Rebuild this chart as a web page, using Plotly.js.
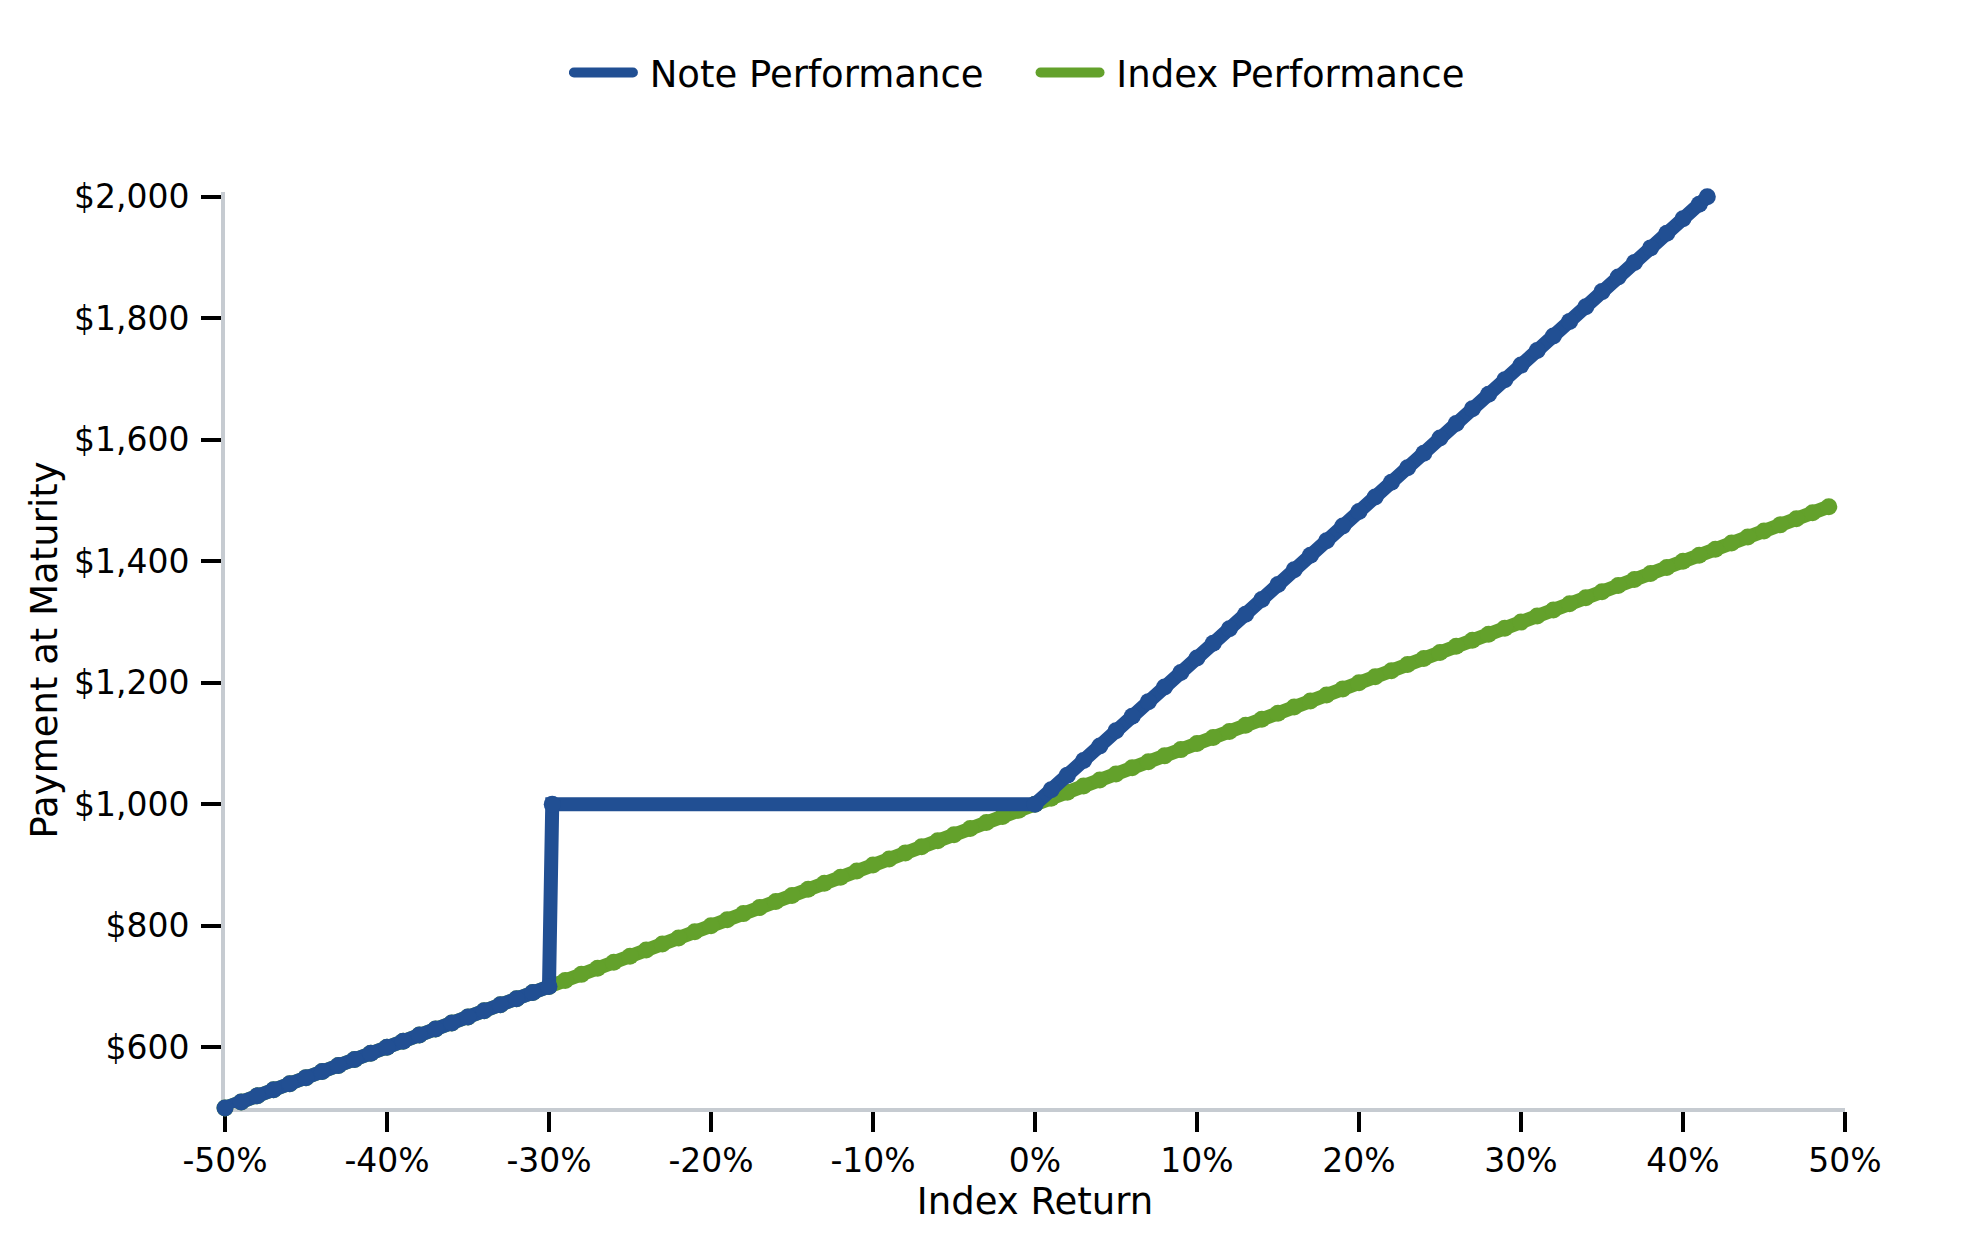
<!DOCTYPE html>
<html>
<head>
<meta charset="utf-8">
<script src="https://cdn.plot.ly/plotly-3.0.1.min.js"></script>
<style>
  html, body { margin: 0; padding: 0; background: #fff; }
  #chart { width: 1979px; height: 1250px; }
  .legendlines path, .js-line { stroke-linecap: round; }
</style>
</head>
<body>
<div id="chart"></div>
<script>
// index return in %, and what the index is worth per $1,000
const indexReturn = [
  -50, -49, -48, -47, -46, -45, -44, -43, -42, -41,
  -40, -39, -38, -37, -36, -35, -34, -33, -32, -31,
  -30, -29, -28, -27, -26, -25, -24, -23, -22, -21,
  -20, -19, -18, -17, -16, -15, -14, -13, -12, -11,
  -10, -9, -8, -7, -6, -5, -4, -3, -2, -1,
  0, 1, 2, 3, 4, 5, 6, 7, 8, 9,
  10, 11, 12, 13, 14, 15, 16, 17, 18, 19,
  20, 21, 22, 23, 24, 25, 26, 27, 28, 29,
  30, 31, 32, 33, 34, 35, 36, 37, 38, 39,
  40, 41, 42, 43, 44, 45, 46, 47, 48, 49
];
const indexValue = [
  500, 510, 520, 530, 540, 550, 560, 570, 580, 590,
  600, 610, 620, 630, 640, 650, 660, 670, 680, 690,
  700, 710, 720, 730, 740, 750, 760, 770, 780, 790,
  800, 810, 820, 830, 840, 850, 860, 870, 880, 890,
  900, 910, 920, 930, 940, 950, 960, 970, 980, 990,
  1000, 1010, 1020, 1030, 1040, 1050, 1060, 1070, 1080, 1090,
  1100, 1110, 1120, 1130, 1140, 1150, 1160, 1170, 1180, 1190,
  1200, 1210, 1220, 1230, 1240, 1250, 1260, 1270, 1280, 1290,
  1300, 1310, 1320, 1330, 1340, 1350, 1360, 1370, 1380, 1390,
  1400, 1410, 1420, 1430, 1440, 1450, 1460, 1470, 1480, 1490
];

// note payoff (flat part has no points in between)
const noteReturn = [
  -50, -49, -48, -47, -46, -45, -44, -43, -42, -41,
  -40, -39, -38, -37, -36, -35, -34, -33, -32, -31,
  -30, -29.8,
  0, 1, 2, 3, 4, 5, 6, 7, 8, 9,
  10, 11, 12, 13, 14, 15, 16, 17, 18, 19,
  20, 21, 22, 23, 24, 25, 26, 27, 28, 29,
  30, 31, 32, 33, 34, 35, 36, 37, 38, 39,
  40, 41, 41.5
];
const noteValue = [
  500, 510, 520, 530, 540, 550, 560, 570, 580, 590,
  600, 610, 620, 630, 640, 650, 660, 670, 680, 690,
  700, 1000,
  1000, 1024, 1048, 1072, 1096, 1121, 1145, 1169, 1193, 1217,
  1241, 1265, 1289, 1313, 1337, 1362, 1386, 1410, 1434, 1458,
  1482, 1506, 1530, 1554, 1578, 1603, 1627, 1651, 1675, 1699,
  1723, 1747, 1771, 1795, 1819, 1844, 1868, 1892, 1916, 1940,
  1964, 1988, 2000
];

const xTickVals = [-50, -40, -30, -20, -10, 0, 10, 20, 30, 40, 50];
const xTickText = ["-50%", "-40%", "-30%", "-20%", "-10%", "0%", "10%", "20%", "30%", "40%", "50%"];
const yTickVals = [600, 800, 1000, 1200, 1400, 1600, 1800, 2000];
const yTickText = ["$600", "$800", "$1,000", "$1,200", "$1,400", "$1,600", "$1,800", "$2,000"];

const blue = "#214f93";
const green = "#63a12b";
const font = "DejaVu Sans, Verdana, sans-serif";
const nb = "\u00a0";

const traces = [
  {
    x: indexReturn, y: indexValue, type: "scatter", mode: "lines+markers",
    line: { color: green, width: 14 },
    marker: { color: green, size: 17 },
    cliponaxis: false, showlegend: false, hoverinfo: "skip"
  },
  {
    x: noteReturn, y: noteValue, type: "scatter", mode: "lines+markers",
    line: { color: blue, width: 14 },
    marker: { color: blue, size: 17 },
    cliponaxis: false, showlegend: false, hoverinfo: "skip"
  },
  // legend entries: line only, like the original
  {
    x: [null], y: [null], type: "scatter", mode: "lines",
    name: nb + "Note Performance" + nb + nb + nb + nb,
    line: { color: blue, width: 12 }, legendrank: 1
  },
  {
    x: [null], y: [null], type: "scatter", mode: "lines",
    name: nb + "Index Performance",
    line: { color: green, width: 12 }, legendrank: 2
  }
];

const axisBase = {
  showgrid: false, zeroline: false, layer: "below traces",
  showline: true, linecolor: "#c6cbd1", linewidth: 4,
  ticks: "outside", ticklen: 20, tickwidth: 4, tickcolor: "#000",
  tickfont: { family: font, size: 33, color: "#000" }
};

const layout = {
  width: 1979, height: 1250,
  margin: { l: 225, r: 134, t: 192, b: 142 },
  paper_bgcolor: "#fff", plot_bgcolor: "#fff",
  font: { family: font, color: "#000" },
  showlegend: true,
  legend: {
    orientation: "h", x: 0.2123, xanchor: "left", y: 1.13, yanchor: "middle",
    font: { family: font, size: 37, color: "#000" },
    itemwidth: 59, bgcolor: "rgba(0,0,0,0)"
  },
  xaxis: Object.assign({}, axisBase, {
    range: [-50, 50],
    tickmode: "array", tickvals: xTickVals, ticktext: xTickText,
    title: { text: "Index Return", font: { family: font, size: 37, color: "#000" }, standoff: 10 }
  }),
  yaxis: Object.assign({}, axisBase, {
    range: [500, 2008],
    tickmode: "array", tickvals: yTickVals, ticktext: yTickText,
    ticklabelstandoff: 5,
    title: { text: "Payment at Maturity", font: { family: font, size: 37, color: "#000" }, standoff: 6 }
  })
};

Plotly.newPlot("chart", traces, layout, { staticPlot: true });
</script>
</body>
</html>
